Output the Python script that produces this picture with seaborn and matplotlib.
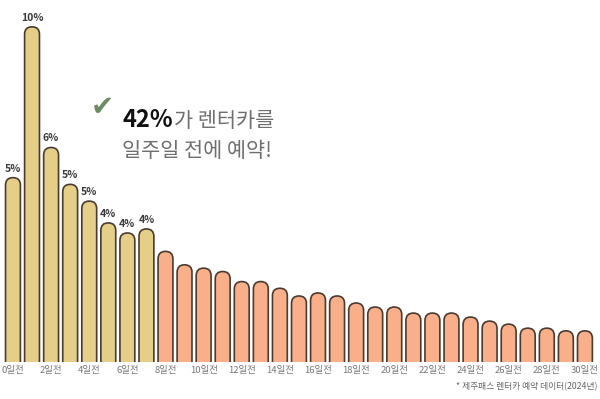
import pandas as pd
import matplotlib
matplotlib.use("Agg")
import matplotlib.pyplot as plt
import seaborn as sns
from matplotlib.patches import FancyBboxPatch

# share of rentals booked N days ahead (%)
days = list(range(31))
share = [5.5, 10.0, 6.4, 5.3, 4.8, 4.15, 3.85, 3.97,
         3.3, 2.9, 2.8, 2.7, 2.4, 2.4, 2.2, 1.97, 2.06, 1.97, 1.76,
         1.64, 1.64, 1.46, 1.46, 1.46, 1.34, 1.22, 1.13, 1.01, 1.01, 0.93, 0.93]
top_labels = ["5%", "10%", "6%", "5%", "5%", "4%", "4%", "4%"]
day_labels = [f"{d}일전" for d in days]

gold = "#E5CF88"
salmon = "#F9AF89"
edge = "#4A3B31"

df = pd.DataFrame({"day": day_labels, "share": share})
df["grp"] = ["week" if d < 8 else "later" for d in days]

sns.set_style("white")
plt.rcParams['font.family'] = ['Noto Sans CJK KR', 'DejaVu Sans']

fig = plt.figure(figsize=(6, 3.99), dpi=100)
ax = fig.add_axes([0, 0.0927, 1, 0.9073])

bar_w = 0.78
sns.barplot(data=df, x="day", y="share", hue="grp",
            palette={"week": gold, "later": salmon}, saturation=1,
            width=bar_w, dodge=False, legend=False, ax=ax)

ax.set_xlim(-0.68, 30.79)
ax.set_ylim(0, 10.8)

# pixel scale, used to keep the bar tops round
x_px = 600 / (30.79 + 0.68)
y_px = (399 * 0.9073) / 10.8
aspect = x_px / y_px

# swap the flat bars for ones with a round top
for p in list(ax.patches):
    x0, w, h = p.get_x(), p.get_width(), p.get_height()
    fc = p.get_facecolor()
    p.remove()
    r = w / 2
    box = FancyBboxPatch((x0, -1), w, h + 1,
                         boxstyle=f"round,pad=0,rounding_size={r}",
                         mutation_aspect=aspect,
                         facecolor=fc, edgecolor=edge, linewidth=1.2,
                         clip_on=True, zorder=2)
    ax.add_patch(box)

# value labels on the first week
for i, lab in enumerate(top_labels):
    ax.text(i, share[i] + 0.12, lab, ha="center", va="bottom",
            fontsize=7.5, fontweight="bold", color="#3a3a3a")

ax.set_xticks(days[::2])
ax.set_xticklabels(day_labels[::2], fontsize=6.8, color="#777777")
ax.tick_params(axis="x", length=0, pad=3)
ax.set_yticks([])
ax.set_xlabel("")
ax.set_ylabel("")
sns.despine(ax=ax, left=True, bottom=True)

# headline
fig.text(0.17, 0.732, "\u2714", fontsize=20, color="#6E8C64",
         ha="center", va="center", family=['DejaVu Sans'])
t1 = fig.text(0.205, 0.67, "42%", fontsize=17, fontweight="heavy",
              color="#111111", ha="left", va="bottom")
ax.annotate("가 렌터카를", xy=(1, 0), xycoords=t1, ha="left", va="bottom",
            fontsize=15, color="#6f6f6f")
fig.text(0.204, 0.595, "일주일 전에 예약!", fontsize=15, color="#6f6f6f",
         ha="left", va="bottom")

fig.text(0.995, 0.02, "* 제주패스 렌터카 예약 데이터(2024년)", fontsize=6.3,
         color="#666666", ha="right", va="bottom")

fig.savefig("out.png", dpi=100)
